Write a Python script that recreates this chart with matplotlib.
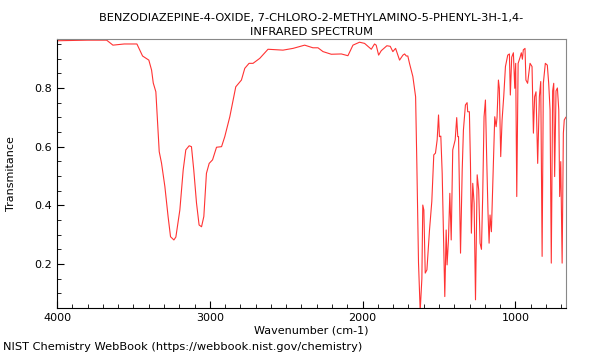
import matplotlib
matplotlib.use("Agg")
import matplotlib.pyplot as plt
import matplotlib.ticker as mticker

WAVENUMBER = [
    4000, 3800, 3675, 3634, 3560, 3477, 3440, 3399, 3381, 3370, 3353, 3344,
    3331, 3316, 3294, 3273, 3257, 3235, 3222, 3196, 3174, 3157, 3135, 3120,
    3105, 3087, 3070, 3054, 3039, 3022, 3004, 2982, 2956, 2923, 2902, 2869,
    2830, 2793, 2771, 2743, 2717, 2673, 2619, 2521, 2455, 2379, 2325, 2292,
    2259, 2205, 2139, 2096, 2063, 2020, 1987, 1943, 1922, 1911, 1895, 1878,
    1841, 1819, 1802, 1784, 1758, 1736, 1725, 1714, 1704, 1693, 1671, 1653,
    1645, 1634, 1623, 1612, 1606, 1599, 1590, 1579, 1562, 1547, 1534, 1523,
    1512, 1503, 1497, 1488, 1479, 1469, 1462, 1453, 1447, 1438, 1429, 1420,
    1410, 1394, 1384, 1377, 1372, 1359, 1348, 1340, 1327, 1316, 1312, 1301,
    1294, 1288, 1279, 1270, 1261, 1250, 1240, 1231, 1222, 1214, 1205, 1196,
    1188, 1179, 1172, 1166, 1157, 1144, 1135, 1126, 1120, 1111, 1105, 1096,
    1087, 1076, 1065, 1050, 1039, 1033, 1024, 1013, 1004, 998, 991, 982,
    969, 961, 954, 948, 937, 931, 920, 904, 891, 882, 874, 865,
    854, 843, 834, 825, 817, 804, 791, 782, 773, 765, 756, 749,
    743, 734, 725, 716, 710, 703, 694, 686, 680, 670,
]
TRANSMITANCE = [
    0.961, 0.963, 0.963, 0.946, 0.950, 0.950, 0.909, 0.895, 0.861, 0.817, 0.787, 0.702,
    0.583, 0.544, 0.464, 0.362, 0.293, 0.282, 0.292, 0.384, 0.521, 0.589, 0.603, 0.600,
    0.521, 0.408, 0.333, 0.327, 0.362, 0.509, 0.543, 0.555, 0.598, 0.600, 0.634, 0.702,
    0.804, 0.827, 0.867, 0.884, 0.884, 0.901, 0.932, 0.929, 0.935, 0.946, 0.937, 0.937,
    0.924, 0.915, 0.916, 0.910, 0.946, 0.956, 0.952, 0.932, 0.950, 0.946, 0.912, 0.927,
    0.944, 0.942, 0.924, 0.935, 0.895, 0.912, 0.916, 0.909, 0.909, 0.884, 0.839, 0.770,
    0.544, 0.204, 0.040, 0.150, 0.401, 0.384, 0.169, 0.180, 0.316, 0.413, 0.572, 0.578,
    0.623, 0.708, 0.634, 0.636, 0.509, 0.260, 0.089, 0.316, 0.197, 0.282, 0.441, 0.282,
    0.589, 0.623, 0.699, 0.634, 0.634, 0.237, 0.521, 0.657, 0.742, 0.750, 0.719, 0.719,
    0.543, 0.305, 0.475, 0.407, 0.078, 0.504, 0.452, 0.271, 0.250, 0.430, 0.702, 0.759,
    0.566, 0.373, 0.271, 0.367, 0.310, 0.543, 0.702, 0.668, 0.700, 0.827, 0.799, 0.566,
    0.691, 0.773, 0.873, 0.912, 0.916, 0.776, 0.905, 0.920, 0.799, 0.884, 0.430, 0.884,
    0.905, 0.920, 0.898, 0.930, 0.935, 0.827, 0.816, 0.884, 0.873, 0.646, 0.770, 0.787,
    0.543, 0.770, 0.822, 0.226, 0.816, 0.884, 0.878, 0.816, 0.725, 0.203, 0.790, 0.816,
    0.498, 0.790, 0.800, 0.725, 0.430, 0.549, 0.203, 0.646, 0.691, 0.700,
]

TITLE = ("BENZODIAZEPINE-4-OXIDE, 7-CHLORO-2-METHYLAMINO-5-PHENYL-3H-1,4-\n"
         "INFRARED SPECTRUM")
X_TICKS = [4000, 3000, 2000, 1000]
Y_TICKS = [0.2, 0.4, 0.6, 0.8]

SPINE_COLOR = "#888888"

fig = plt.figure(figsize=(6, 3.6), dpi=100)
ax = fig.add_axes([0.095, 0.1444, 0.848, 0.7473])

ax.plot(WAVENUMBER, TRANSMITANCE, color="#ff3333", linewidth=0.8)

ax.set_xlim(4000, 670)
ax.set_ylim(0.05, 0.967)
ax.set_xticks(X_TICKS)
ax.set_yticks(Y_TICKS)
ax.xaxis.set_minor_locator(mticker.MultipleLocator(100))
ax.yaxis.set_minor_locator(mticker.MultipleLocator(0.05))
ax.yaxis.set_major_formatter(mticker.FormatStrFormatter("%.1f"))
ax.tick_params(which="both", direction="in", labelsize=8, color="black")
ax.tick_params(which="major", length=5)
ax.tick_params(which="minor", length=3)

for s in ax.spines.values():
    s.set_color(SPINE_COLOR)
ax.spines["left"].set_color("black")
ax.spines["bottom"].set_color("black")

ax.set_title(TITLE, fontsize=8.2, linespacing=1.5, pad=3)
ax.set_xlabel("Wavenumber (cm-1)", fontsize=8, labelpad=2)
ax.set_ylabel("Transmitance", fontsize=8, labelpad=13)

fig.text(0.005, 0.022, "NIST Chemistry WebBook (https://webbook.nist.gov/chemistry)",
         fontsize=8.2, ha="left", va="bottom")

fig.savefig("out.png", dpi=100, facecolor="white")
